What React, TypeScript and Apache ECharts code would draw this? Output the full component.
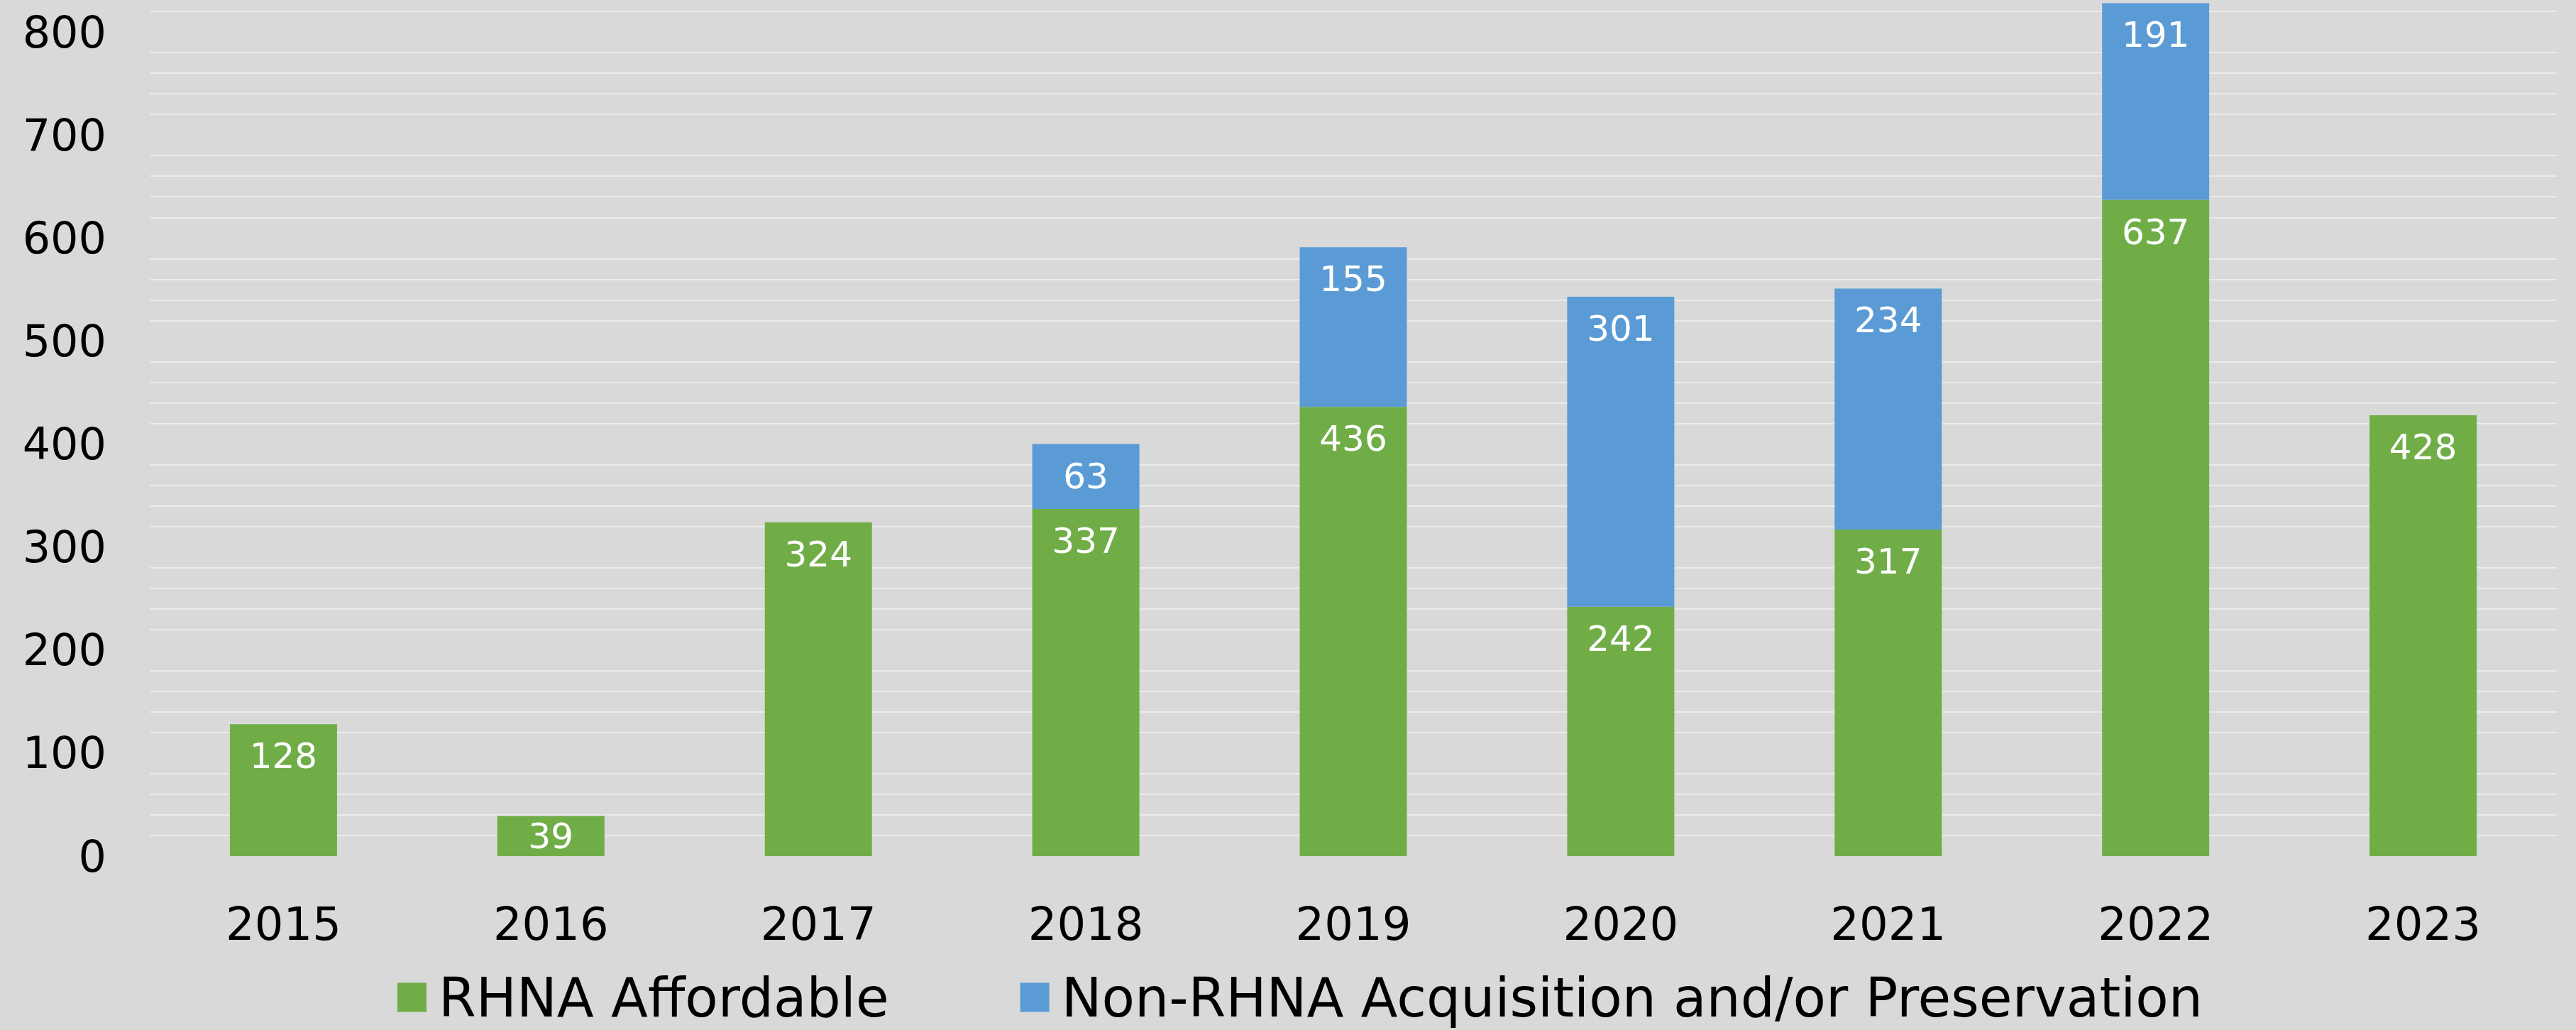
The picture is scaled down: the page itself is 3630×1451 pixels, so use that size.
import React, { useEffect, useRef } from "react";
import * as echarts from "echarts";

const categories = ["2015", "2016", "2017", "2018", "2019", "2020", "2021", "2022", "2023"];
const rhnaAffordable = [128, 39, 324, 337, 436, 242, 317, 637, 428];
const nonRhna = [null, null, null, 63, 155, 301, 234, 191, null];
const seriesNames = ["RHNA Affordable", "Non-RHNA Acquisition and/or Preservation"];
const yMax = 830;
const yStep = 20;
const yLabelStep = 100;

const FONT = "DejaVu Sans";
const GREEN = "#70ad47";
const BLUE = "#5b9bd5";
const GRID = "#ebebeb";

function toItems(values: (number | null)[]) {
  return values.map((v) =>
    v == null ? null : v < 60 ? { value: v, label: { position: "inside", distance: 0 } } : { value: v }
  );
}

export default function App() {
  const ref = useRef<HTMLDivElement>(null);
  useEffect(() => {
    if (!ref.current) return;
    const chart = echarts.init(ref.current, null, { renderer: "svg" });
    const labelStyle = {
      show: true,
      position: "insideTop",
      distance: 20,
      color: "#ffffff",
      fontFamily: FONT,
      fontSize: 50,
    };
    chart.setOption({
      animation: false,
      backgroundColor: "#d9d9d9",
      textStyle: { fontFamily: FONT },
      grid: { left: 211, right: 27, top: 1.5, bottom: 245, containLabel: false },
      xAxis: {
        type: "category",
        data: categories,
        axisLine: { show: false },
        axisTick: { show: false },
        axisLabel: { color: "#000", fontFamily: FONT, fontSize: 64, margin: 64 },
        splitLine: { show: false },
      },
      yAxis: {
        type: "value",
        min: 0,
        max: yMax,
        interval: yStep,
        axisLine: { show: false },
        axisTick: { show: false },
        axisLabel: {
          color: "#000",
          fontFamily: FONT,
          fontSize: 62,
          margin: 61,
          showMaxLabel: false,
          formatter: (v: number) => (v % yLabelStep === 0 ? String(v) : ""),
        },
        splitLine: {
          show: true,
          showMaxLine: false,
          lineStyle: { color: ["rgba(0,0,0,0)", GRID, GRID, GRID, GRID], width: 2 },
        },
      },
      legend: {
        data: seriesNames,
        left: 555,
        top: 1362,
        icon: "rect",
        itemWidth: 41,
        itemHeight: 41,
        itemGap: 185,
        textStyle: {
          color: "#000",
          fontFamily: FONT,
          fontSize: 76,
          lineHeight: 70,
          padding: [0, 0, 0, 12],
        },
      },
      series: [
        {
          name: seriesNames[0],
          type: "bar",
          stack: "total",
          barWidth: 151,
          itemStyle: { color: GREEN },
          label: labelStyle,
          data: toItems(rhnaAffordable),
        },
        {
          name: seriesNames[1],
          type: "bar",
          stack: "total",
          barWidth: 151,
          itemStyle: { color: BLUE },
          label: labelStyle,
          data: toItems(nonRhna),
        },
      ],
    });
    return () => chart.dispose();
  }, []);
  return (
    <div
      ref={ref}
      style={{ position: "fixed", left: 0, top: 0, width: 3630, height: 1451 }}
    />
  );
}
